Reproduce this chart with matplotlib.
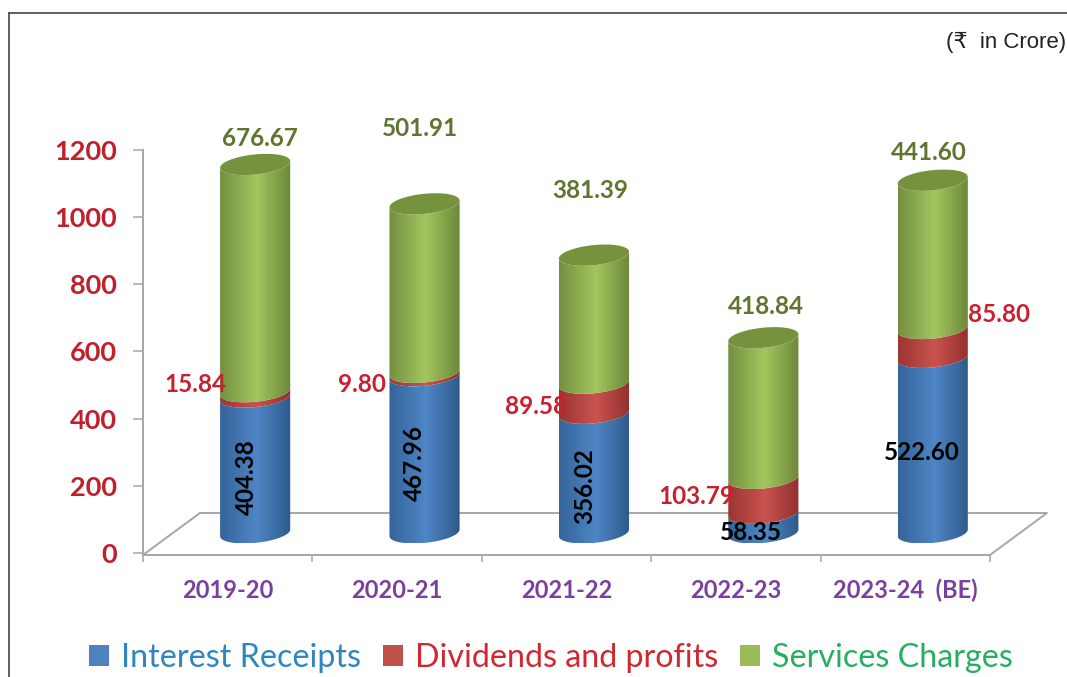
"""Receipts chart: stacked 3D-look cylinders, rupees in crore."""

import numpy as np
import matplotlib
matplotlib.use("Agg")
import matplotlib.pyplot as plt
from matplotlib.colors import LinearSegmentedColormap
from matplotlib.lines import Line2D
from matplotlib.patches import Patch, PathPatch
from matplotlib.path import Path

# ── Data ────────────────────────────────────────────────
years = ["2019-20", "2020-21", "2021-22", "2022-23", "2023-24  (BE)"]
interest = [404.38, 467.96, 356.02, 58.35, 522.60]
dividends = [15.84, 9.80, 89.58, 103.79, 85.80]
services = [676.67, 501.91, 381.39, 418.84, 441.60]
y_ticks = [0, 200, 400, 600, 800, 1000, 1200]
series_names = ["Interest Receipts", "Dividends and profits", "Services Charges"]

# ── Style ───────────────────────────────────────────────
W, H = 1067, 677
BODY = ["Lato", "DejaVu Sans"]
BLUE = ("#34659a", "#4f86c6", "#2d5a8a")
RED = ("#9c3531", "#c9534f", "#93302d")
GREEN = ("#748f40", "#a3c75f", "#6c873a")
CAP = "#76923c"
LINE = "#a6a6a6"
SWATCH = ["#4f81bd", "#c0504d", "#9bbb59"]
LEGEND_TEXT = ["#2e86c1", "#d0282e", "#27ae60"]

# bars stand forward of the wall by this much (x units, y units)
BAR_DX = 0.162
BAR_BASE = 60
BAR_HALF = 0.207
ELL_H = 30
ELL_TILT = 10
FLOOR_DX = 0.336
FLOOR_DY = 119

plt.rcParams["font.family"] = BODY

fig = plt.figure(figsize=(W / 100, H / 100), dpi=100, facecolor="white")
ax = fig.add_axes([143 / W, 1 - 555 / H, 847 / W, 405 / H])


def fig_text(px, py, s, **kw):
    fig.text(px / W, 1 - py / H, s, ha="center", va="center", **kw)


def arc(xc, yc, t):
    return xc + BAR_HALF * np.cos(t), yc + ELL_H * np.sin(t) + ELL_TILT * np.cos(t)


def segment(xc, y0, y1, colors):
    """One slice of a cylinder, shaded left to right and clipped to its outline."""
    t = np.linspace(np.pi, 2 * np.pi, 60)
    xa, ya = arc(xc, y0, t)
    xb, yb = arc(xc, y1, t[::-1])
    verts = np.column_stack([np.r_[xa, xb], np.r_[ya, yb]])
    outline = PathPatch(Path(np.vstack([verts, verts[0]]), closed=True),
                        facecolor="none", edgecolor="none", zorder=3)
    ax.add_patch(outline)
    cmap = LinearSegmentedColormap.from_list(
        "cyl", [(0, colors[0]), (0.52, colors[1]), (1, colors[2])])
    img = ax.imshow(np.linspace(0, 1, 128)[None, :], cmap=cmap, aspect="auto", zorder=3,
                    extent=[xc - BAR_HALF, xc + BAR_HALF, verts[:, 1].min(), verts[:, 1].max()])
    img.set_clip_path(outline)


# ── Floor ───────────────────────────────────────────────
ax.plot([-0.5, -0.5 + FLOOR_DX, 4.5 + FLOOR_DX, 4.5], [-6, FLOOR_DY, FLOOR_DY, -6],
        color=LINE, lw=1.4, clip_on=False, zorder=1)

# ── Cylinders ───────────────────────────────────────────
for i in range(len(years)):
    xc = i + BAR_DX
    a = BAR_BASE + interest[i]
    b = a + dividends[i]
    c = b + services[i]
    segment(xc, BAR_BASE, a, BLUE)
    segment(xc, a, b, RED)
    segment(xc, b, c, GREEN)
    tx, ty = arc(xc, c, np.linspace(0, 2 * np.pi, 80))
    ax.fill(tx, ty, color=CAP, lw=0, zorder=4)

# ── Axes ────────────────────────────────────────────────
ax.set_xlim(-0.5, 4.5)
ax.set_ylim(-6, 1200)
ax.patch.set_alpha(0)
for side in ("top", "right"):
    ax.spines[side].set_visible(False)
for side in ("left", "bottom"):
    ax.spines[side].set_color(LINE)
    ax.spines[side].set_linewidth(1.4)

ax.set_yticks(y_ticks)
ax.tick_params(axis="y", length=7, width=1.1, color=LINE, pad=12,
               labelsize=19.5, labelcolor="#c0202c")
for lab in ax.get_yticklabels():
    lab.set_fontweight("bold")

ax.set_xticks(range(len(years)))
ax.set_xticklabels(years, fontweight="bold", fontsize=17, color="#7b3f9e")
ax.set_xticks(np.arange(-0.5, 5), minor=True)
ax.tick_params(axis="x", which="major", length=0, pad=17)
ax.tick_params(axis="x", which="minor", length=5, width=1.1, color=LINE)

# ── Value labels (placed by hand, as in the source chart) ───
green_pos = [(260, 139), (420, 128), (590, 191), (766, 307), (929, 152)]
red_pos = [(195, 384), (362, 385), (536, 406), (696, 496), (999, 314)]
blue_pos = [(246, 477), (414, 463), (585, 486), (751, 533), (922, 453)]
blue_rot = [90, 90, 90, 0, 0]

for i in range(len(years)):
    fig_text(*green_pos[i], f"{services[i]:.2f}", color="#5f7530", fontsize=17.5, fontweight="bold")
    fig_text(*red_pos[i], f"{dividends[i]:.2f}", color="#c8202f", fontsize=17.5, fontweight="bold")
    fig_text(*blue_pos[i], f"{interest[i]:.2f}", color="black", fontsize=17.5, fontweight="bold",
             rotation=blue_rot[i], zorder=6)

fig.text(1066 / W, 1 - 42 / H, "(₹  in Crore)", ha="right", va="center", fontsize=16,
         color="#222222", family=["Liberation Sans", "DejaVu Sans"])

# ── Legend ──────────────────────────────────────────────
handles = [Patch(facecolor=c, edgecolor="none") for c in SWATCH]
leg = fig.legend(handles, series_names, loc="center", bbox_to_anchor=(551 / W, 1 - 658 / H),
                 ncol=3, frameon=False, fontsize=23.25, handlelength=0.62, handleheight=0.62,
                 handletextpad=0.35, columnspacing=0.7, labelcolor=LEGEND_TEXT)

# ── Picture frame, top and left only ────────────────────
fig.add_artist(Line2D([9 / W, 1], [1 - 13 / H] * 2, color="#444444", lw=1.2))
fig.add_artist(Line2D([9 / W] * 2, [0, 1 - 13 / H], color="#444444", lw=1.2))

fig.savefig("out.png", dpi=100)
